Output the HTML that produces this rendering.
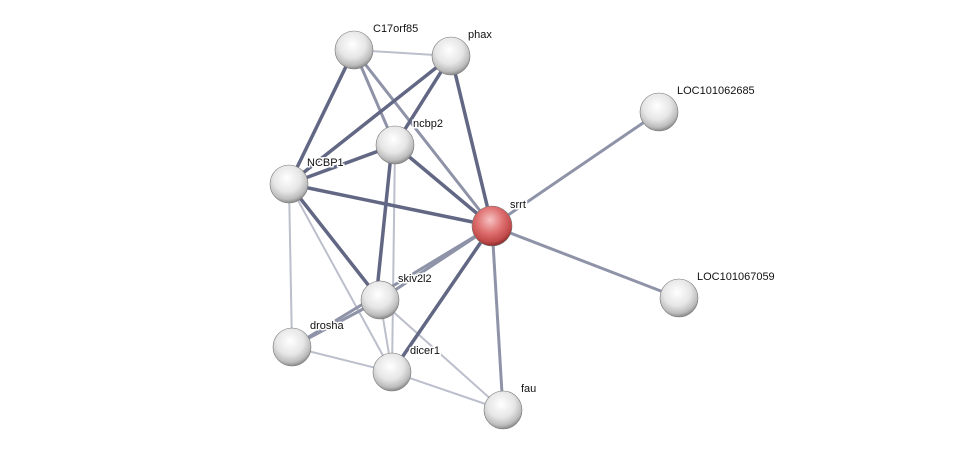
<!DOCTYPE html>
<html><head><meta charset="utf-8"><style>
html,body{margin:0;padding:0;background:#fff;}
svg{display:block;}
text{font-family:"Liberation Sans",sans-serif;font-size:11px;fill:#111;stroke:#fff;stroke-width:3px;paint-order:stroke;}
</style></head><body>
<svg width="975" height="456" viewBox="0 0 975 456">
<defs>
<radialGradient id="g" cx="45%" cy="35%" r="65%">
<stop offset="0" stop-color="#ffffff"/><stop offset="0.55" stop-color="#e6e6e6"/><stop offset="0.85" stop-color="#bdbdbd"/><stop offset="1" stop-color="#8a8a8a"/></radialGradient>
<radialGradient id="r" cx="45%" cy="35%" r="65%">
<stop offset="0" stop-color="#f6c2c2"/><stop offset="0.5" stop-color="#df7070"/><stop offset="0.85" stop-color="#c04848"/><stop offset="1" stop-color="#8a2a2a"/></radialGradient>
</defs>
<g stroke-linecap="round">
<g stroke="#bcbfcc" stroke-width="2">
<line x1="354" y1="50" x2="451" y2="56"/>
<line x1="395" y1="145" x2="392" y2="372"/>
<line x1="289" y1="184" x2="292" y2="347"/>
<line x1="289" y1="184" x2="392" y2="372"/>
<line x1="380" y1="300" x2="392" y2="372"/>
<line x1="380" y1="300" x2="503" y2="410"/>
<line x1="292" y1="347" x2="392" y2="372"/>
<line x1="392" y1="372" x2="503" y2="410"/>
</g>
<g stroke="#8f93a8" stroke-width="3">
<line x1="354" y1="50" x2="395" y2="145"/>
<line x1="354" y1="50" x2="492" y2="226"/>
<line x1="492" y1="226" x2="659" y2="112"/>
<line x1="492" y1="226" x2="679" y2="298"/>
<line x1="492" y1="226" x2="380" y2="300"/>
<line x1="492" y1="226" x2="292" y2="347"/>
<line x1="492" y1="226" x2="503" y2="410"/>
<line x1="380" y1="300" x2="292" y2="347"/>
</g>
<g stroke="#626784" stroke-width="3.5">
<line x1="354" y1="50" x2="289" y2="184"/>
<line x1="451" y1="56" x2="395" y2="145"/>
<line x1="451" y1="56" x2="289" y2="184"/>
<line x1="451" y1="56" x2="492" y2="226"/>
<line x1="395" y1="145" x2="289" y2="184"/>
<line x1="395" y1="145" x2="492" y2="226"/>
<line x1="392" y1="145" x2="376" y2="300"/>
<line x1="289" y1="184" x2="492" y2="226"/>
<line x1="289" y1="184" x2="380" y2="300"/>
<line x1="492" y1="226" x2="392" y2="372"/>
</g>
</g>
<g stroke="#777" stroke-width="0.6">
<circle cx="354" cy="50" r="19" fill="url(#g)"/>
<circle cx="451" cy="56" r="19" fill="url(#g)"/>
<circle cx="659" cy="112" r="19" fill="url(#g)"/>
<circle cx="395" cy="145" r="19" fill="url(#g)"/>
<circle cx="289" cy="184" r="19" fill="url(#g)"/>
<circle cx="492" cy="226" r="20" fill="url(#r)"/>
<circle cx="679" cy="298" r="19" fill="url(#g)"/>
<circle cx="380" cy="300" r="19" fill="url(#g)"/>
<circle cx="292" cy="347" r="19" fill="url(#g)"/>
<circle cx="392" cy="372" r="19" fill="url(#g)"/>
<circle cx="503" cy="410" r="19" fill="url(#g)"/>
</g>
<text x="373" y="32">C17orf85</text>
<text x="468" y="38">phax</text>
<text x="677" y="94">LOC101062685</text>
<text x="413" y="127">ncbp2</text>
<text x="307" y="166">NCBP1</text>
<text x="510" y="208">srrt</text>
<text x="697" y="280">LOC101067059</text>
<text x="398" y="282">skiv2l2</text>
<text x="310" y="329">drosha</text>
<text x="410" y="354">dicer1</text>
<text x="521" y="392">fau</text>
</svg>
</body></html>
